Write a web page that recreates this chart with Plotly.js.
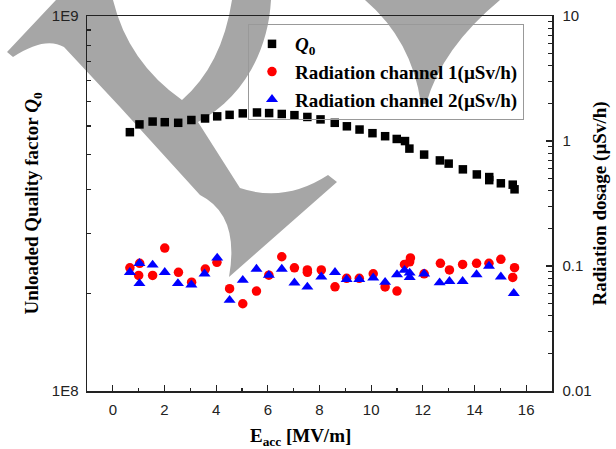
<!DOCTYPE html>
<html>
<head>
<meta charset="utf-8">
<script src="https://cdn.plot.ly/plotly-3.0.1.min.js"></script>
<style>html,body{margin:0;padding:0;background:#fff;}#chart{width:616px;height:449px;}</style>
</head>
<body>
<div id="chart"></div>
<script>
// ---- data ----
var eaccQ0 = [0.66,1.03,1.54,2.01,2.53,3.04,3.57,4.04,4.52,5.03,5.58,6.05,6.54,7.03,7.53,8.04,8.59,9.06,9.55,10.05,10.54,10.99,11.31,11.48,12.05,12.66,13.0,13.55,14.09,14.57,14.57,15.02,15.48,15.55];
var q0 = [4.90e8,5.14e8,5.23e8,5.21e8,5.19e8,5.28e8,5.33e8,5.40e8,5.45e8,5.50e8,5.53e8,5.51e8,5.48e8,5.44e8,5.38e8,5.30e8,5.19e8,5.08e8,4.98e8,4.87e8,4.78e8,4.70e8,4.64e8,4.43e8,4.27e8,4.12e8,4.04e8,3.90e8,3.78e8,3.72e8,3.65e8,3.58e8,3.55e8,3.45e8];

var eaccRad1 = [0.66,1.04,1.0,1.54,2.01,2.54,3.05,3.58,4.03,4.52,5.03,5.56,6.04,6.54,7.03,7.53,7.53,8.07,8.6,9.05,9.54,10.08,10.54,11.0,11.29,11.49,11.52,12.05,12.68,13.03,13.54,14.08,14.56,15.02,15.48,15.55];
var rad1 = [0.0967,0.105,0.084,0.084,0.139,0.089,0.0743,0.0945,0.107,0.0658,0.0499,0.063,0.0845,0.1186,0.0967,0.093,0.089,0.093,0.0682,0.0797,0.0797,0.0867,0.068,0.063,0.103,0.108,0.116,0.0866,0.105,0.093,0.103,0.105,0.105,0.113,0.081,0.097];

var eaccRad2 = [0.66,1.03,1.03,1.54,2.01,2.52,3.04,3.55,4.04,4.52,5.03,5.56,6.04,6.54,7.03,7.53,8.07,8.6,9.05,9.54,10.08,10.54,11.0,11.29,11.49,11.49,12.05,12.65,13.03,13.54,14.08,14.56,15.02,15.52];
var rad2 = [0.089,0.105,0.0726,0.102,0.089,0.0726,0.0708,0.0866,0.116,0.0533,0.077,0.0945,0.0845,0.0945,0.0733,0.068,0.082,0.089,0.0783,0.0783,0.0804,0.0743,0.0855,0.0925,0.088,0.0812,0.0866,0.0735,0.0754,0.0754,0.0855,0.1,0.082,0.0604];

var xTickVals = [0,2,4,6,8,10,12,14,16];
var xTickText = ['0','2','4','6','8','10','12','14','16'];
var leftTickVals = [1e8,1e9];
var leftTickText = ['1E8','1E9'];
var rightTickVals = [0.01,0.1,1,10];
var rightTickText = ['0.01','0.1','1','10'];

var seriesNames = ['<b><i>Q</i><sub>0</sub></b>','<b>Radiation channel 1(\u00b5Sv/h)</b>','<b>Radiation channel 2(\u00b5Sv/h)</b>'];

// ---- axis minor ticks ----
var xMinor = [];
for (var i = 1; i <= 15; i += 2) xMinor.push(i);
var leftMinor = [];
for (var k = 1; k <= 10; k++) leftMinor.push(1e8 + k * 9e8 / 11);
var rightMinor = [];
[0.01,0.1,1].forEach(function(d){ for (var m = 2; m <= 9; m++) rightMinor.push(d*m); });

// ---- watermark (decoration) in pixel coordinates, converted to paper ----
var PL = 87, PR = 552, PT = 16, PB = 391;
function P(x, y){ return ((x-PL)/(PR-PL)).toFixed(4) + ',' + ((PB-y)/(PB-PT)).toFixed(4); }
var wm1 = 'M' + P(7,52) + ' L' + P(56,0) + ' L' + P(113,0) +
  ' Q' + P(128,62) + ' ' + P(182,100) +
  ' Q' + P(222,65) + ' ' + P(232,0) +
  ' L' + P(271,0) +
  ' C' + P(268,55) + ' ' + P(240,100) + ' ' + P(198,122) +
  ' L' + P(240,188) +
  ' Q' + P(285,203) + ' ' + P(328,175) +
  ' L' + P(337,182) + ' L' + P(229,277) +
  ' Q' + P(240,215) + ' ' + P(200,195) +
  ' L' + P(120,107) + ' L' + P(64,47) +
  ' Q' + P(45,36) + ' ' + P(13,57) + ' Z';
var wm2 = 'M' + P(365,0) + ' L' + P(500,0) + ' Q' + P(442,48) + ' ' + P(426,104) + ' L' + P(421,104) + ' Q' + P(412,40) + ' ' + P(365,0) + ' Z';

var axisColor = '#222';
var tickFont = {family:'Liberation Sans, Arial, sans-serif', size:15, color:'#222'};
var titleFont = {family:'Liberation Serif, Times New Roman, serif', size:19, color:'#000'};

var traces = [
  {x:eaccQ0, y:q0, name:seriesNames[0], type:'scatter', mode:'markers', yaxis:'y',
   marker:{symbol:'square', size:8.5, color:'#000'}},
  {x:eaccRad1, y:rad1, name:seriesNames[1], type:'scatter', mode:'markers', yaxis:'y2',
   marker:{symbol:'circle', size:9.5, color:'#ff0000'}},
  {x:eaccRad2, y:rad2, name:seriesNames[2], type:'scatter', mode:'markers', yaxis:'y2',
   marker:{symbol:'triangle-up', size:10.5, color:'#0000ff'}}
];

var layout = {
  width:616, height:449,
  margin:{l:PL, r:616-PR, t:PT, b:449-PB, pad:0},
  paper_bgcolor:'#fff', plot_bgcolor:'#fff',
  font:{family:'Liberation Sans, Arial, sans-serif'},
  showlegend:true,
  legend:{x:(248-PL)/(PR-PL), y:(PB-24)/(PB-PT), xanchor:'left', yanchor:'top',
    bgcolor:'rgba(0,0,0,0)', bordercolor:'#999', borderwidth:1,
    font:{family:'Liberation Serif, Times New Roman, serif', size:19, color:'#000'},
    itemwidth:36, tracegroupgap:0},
  xaxis:{range:[-1,17], tickmode:'array', tickvals:xTickVals, ticktext:xTickText,
    ticks:'inside', ticklen:6, tickwidth:1.3, tickcolor:axisColor,
    showline:true, linecolor:axisColor, linewidth:1.5, mirror:true,
    showgrid:false, zeroline:false, tickfont:tickFont, ticklabelstandoff:4,
    minor:{tickmode:'array', tickvals:xMinor, ticks:'inside', ticklen:3, tickwidth:1.2, tickcolor:axisColor, showgrid:false}},
  yaxis:{type:'log', range:[8,9], tickmode:'array', tickvals:leftTickVals, ticktext:leftTickText,
    ticks:'inside', ticklen:6, tickwidth:1.3, tickcolor:axisColor,
    showline:true, linecolor:axisColor, linewidth:1.5,
    showgrid:false, zeroline:false, tickfont:tickFont, ticklabelstandoff:4,
    title:{text:'<b>Unloaded Quality factor <i>Q</i><sub>0</sub></b>', font:titleFont, standoff:8},
    automargin:false,
    minor:{tickmode:'array', tickvals:leftMinor, ticks:'inside', ticklen:4, tickwidth:1.2, tickcolor:axisColor, showgrid:false}},
  yaxis2:{type:'log', range:[-2,1], overlaying:'y', side:'right', tickmode:'array', tickvals:rightTickVals, ticktext:rightTickText,
    ticks:'inside', ticklen:6, tickwidth:1.3, tickcolor:axisColor,
    showline:true, linecolor:axisColor, linewidth:1.5,
    showgrid:false, zeroline:false, tickfont:tickFont, ticklabelstandoff:6,
    title:{text:'<b>Radiation dosage (\u00b5Sv/h)</b>', font:titleFont, standoff:2},
    automargin:false,
    minor:{tickmode:'array', tickvals:rightMinor, ticks:'inside', ticklen:4, tickwidth:1.2, tickcolor:axisColor, showgrid:false}},
  annotations:[{text:'<b>E<sub>acc</sub> [MV/m]</b>', xref:'paper', yref:'paper',
    x:(300-PL)/(PR-PL), y:(PB-437)/(PB-PT), xanchor:'center', yanchor:'middle',
    showarrow:false, font:titleFont}],
  shapes:[
    {type:'path', path:wm1, xref:'paper', yref:'paper', fillcolor:'#a6a6a6', line:{width:0}, layer:'below'},
    {type:'path', path:wm2, xref:'paper', yref:'paper', fillcolor:'#a6a6a6', line:{width:0}, layer:'below'}
  ]
};

Plotly.newPlot('chart', traces, layout, {displayModeBar:false, staticPlot:true});
</script>
</body>
</html>
